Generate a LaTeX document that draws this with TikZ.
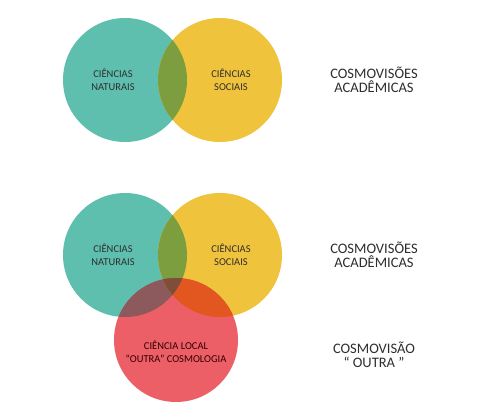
\documentclass[tikz,border=0pt]{standalone}
\usepackage{fontspec}
\setmainfont{Carlito}
\definecolor{tealc}{HTML}{5FBFAE}
\definecolor{yellowc}{HTML}{F0C33C}
\definecolor{redc}{HTML}{EC5F67}
\definecolor{olivec}{HTML}{7C9E3E}
\definecolor{tealred}{HTML}{8C5A5C}
\definecolor{yellowred}{HTML}{E2571F}
\definecolor{triplec}{HTML}{7E4E38}
\definecolor{textc}{HTML}{2E2E2E}
\tikzset{
  field/.style={align=center, font=\fontsize{10.5}{12.7}\selectfont, text=textc},
  worldview/.style={align=center, font=\fontsize{14.5}{14}\selectfont, text=textc}
}
\begin{document}
\begin{tikzpicture}[x=1pt, y=-1pt]
\useasboundingbox (0,0) rectangle (493,411);
\fill[white] (0,0) rectangle (493,411);

% Top diagram: two circles
\fill[tealc] (125,80) circle (62pt);
\fill[yellowc] (220,80) circle (62pt);
\begin{scope}
  \clip (125,80) circle (62pt);
  \fill[olivec] (220,80) circle (62pt);
\end{scope}
\node[field] (nat1) at (113,80) {CIÊNCIAS\\NATURAIS};
\node[field] (soc1) at (231,80) {CIÊNCIAS\\SOCIAIS};
\node[worldview] (acad1) at (374,80) {COSMOVISÕES\\ACADÊMICAS};

% Bottom diagram: three circles
\fill[tealc] (125,255) circle (62pt);
\fill[yellowc] (220,255) circle (62pt);
\fill[redc] (176,340) circle (62pt);
\begin{scope}
  \clip (125,255) circle (62pt);
  \fill[olivec] (220,255) circle (62pt);
\end{scope}
\begin{scope}
  \clip (176,340) circle (62pt);
  \fill[tealred] (125,255) circle (62pt);
  \fill[yellowred] (220,255) circle (62pt);
  \clip (125,255) circle (62pt);
  \fill[triplec] (220,255) circle (62pt);
\end{scope}
\node[field] (nat2) at (113,255) {CIÊNCIAS\\NATURAIS};
\node[field] (soc2) at (231,255) {CIÊNCIAS\\SOCIAIS};
\node[field, text=black!80!red] (local) at (176,352) {CIÊNCIA LOCAL\\“OUTRA” COSMOLOGIA};
\node[worldview] (acad2) at (374,255) {COSMOVISÕES\\ACADÊMICAS};
\node[worldview] (other) at (374,355) {COSMOVISÃO\\“ OUTRA ”};

\end{tikzpicture}
\end{document}
